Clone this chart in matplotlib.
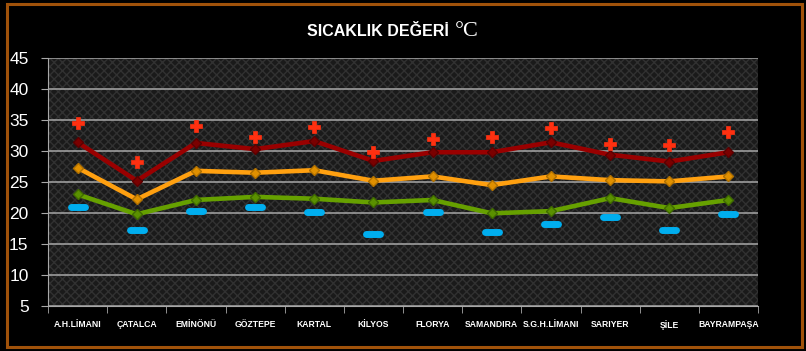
import numpy as np
import matplotlib
matplotlib.use('Agg')
from matplotlib import pyplot as plt
from matplotlib.patches import Rectangle
from matplotlib.markers import MarkerStyle

# istasyonlar
istasyonlar = ['A.H.LİMANI', 'ÇATALCA', 'EMİNÖNÜ', 'GÖZTEPE', 'KARTAL', 'KİLYOS',
               'FLORYA', 'SAMANDIRA', 'S.G.H.LİMANI', 'SARIYER', 'ŞİLE', 'BAYRAMPAŞA']

# ortalama maksimum
ort_max = [31.4, 25.2, 31.3, 30.3, 31.6, 28.4, 29.8, 29.8, 31.4, 29.4, 28.3, 29.8]
# ortalama
ortalama = [27.3, 22.2, 26.8, 26.5, 26.9, 25.2, 25.9, 24.5, 25.9, 25.3, 25.1, 25.9]
# ortalama minimum
ort_min = [23.0, 19.8, 22.1, 22.6, 22.3, 21.7, 22.1, 19.95, 20.3, 22.4, 20.8, 22.1]
# en yuksek
en_yuksek = [34.5, 28.3, 34.0, 32.3, 33.8, 29.9, 31.9, 32.2, 33.7, 31.2, 30.9, 33.0]
# en dusuk
en_dusuk = [20.9, 17.3, 20.3, 20.9, 20.1, 16.6, 20.1, 16.9, 18.2, 19.3, 17.2, 19.8]

yticks = [5, 10, 15, 20, 25, 30, 35, 40, 45]

plt.rcParams['font.family'] = ['Liberation Sans', 'DejaVu Sans']

fig = plt.figure(figsize=(8.06, 3.51), dpi=100, facecolor='black')
fig.patches.append(Rectangle((6.5 / 806, 4 / 351), 795 / 806, 343 / 351,
                             transform=fig.transFigure, fill=False,
                             edgecolor='#A0520A', linewidth=2.2))

ax = fig.add_axes([48 / 806, 1 - 306 / 351, 710 / 806, 248 / 351])
ax.set_facecolor('#1a1a1a')
ax.add_patch(Rectangle((0, 0), 1, 1, transform=ax.transAxes, facecolor='none',
                       edgecolor='#313131', hatch='xxxx', linewidth=0, zorder=0))

x = np.arange(len(istasyonlar))

ax.plot(x, ort_max, color='#990000', lw=3.3, marker='D', ms=5.5,
        mfc='#7a0000', mec='#5a0000', zorder=3)
ax.plot(x, ortalama, color='#FFA010', lw=3.3, marker='D', ms=5.5,
        mfc='#E09000', mec='#B07000', zorder=3)
ax.plot(x, ort_min, color='#66A000', lw=3.3, marker='D', ms=5.5,
        mfc='#5A9000', mec='#3f6a00', zorder=3)
ax.plot(x, en_yuksek, ls='none', marker='P', ms=9, mfc='#FF3010', mec='#FF3010',
        mew=0.5, zorder=4)
ax.plot(x, en_dusuk, ls='none', marker=MarkerStyle('_', capstyle='round'),
        ms=9.5, mew=5, color='#00AEEF', zorder=4)

ax.set_xlim(-0.5, len(istasyonlar) - 0.5)
ax.set_ylim(5, 45)
ax.set_yticks(yticks)
ax.set_yticklabels([str(v) for v in yticks])
ax.yaxis.grid(True, color='#a8a8a8', lw=1.1)
ax.set_axisbelow(True)

ax.set_xticks(x)
ax.set_xticklabels(istasyonlar, color='white', fontsize=6.2, fontweight='bold')
ax.set_xticks(np.arange(-0.5, len(istasyonlar)), minor=True)
ax.tick_params(axis='x', which='major', length=0, pad=10)
ax.tick_params(axis='x', which='minor', length=5, color='#a8a8a8')
ax.tick_params(axis='y', length=5, color='#a8a8a8', labelcolor='white',
               labelsize=12.5, pad=9)

for s in ['top', 'right']:
    ax.spines[s].set_visible(False)
ax.spines['left'].set_color('#a8a8a8')
ax.spines['bottom'].set_color('#a8a8a8')

fig.text(449 / 806, 1 - 32 / 351, 'SICAKLIK DEĞERİ', color='white', fontsize=11.5,
         fontweight='bold', ha='right', va='center')
fig.text(455 / 806, 1 - 31 / 351, '°C', color='white', fontsize=16,
         family=['Liberation Serif', 'DejaVu Serif'], ha='left', va='center')

fig.savefig('out.png', dpi=100, facecolor='black')
